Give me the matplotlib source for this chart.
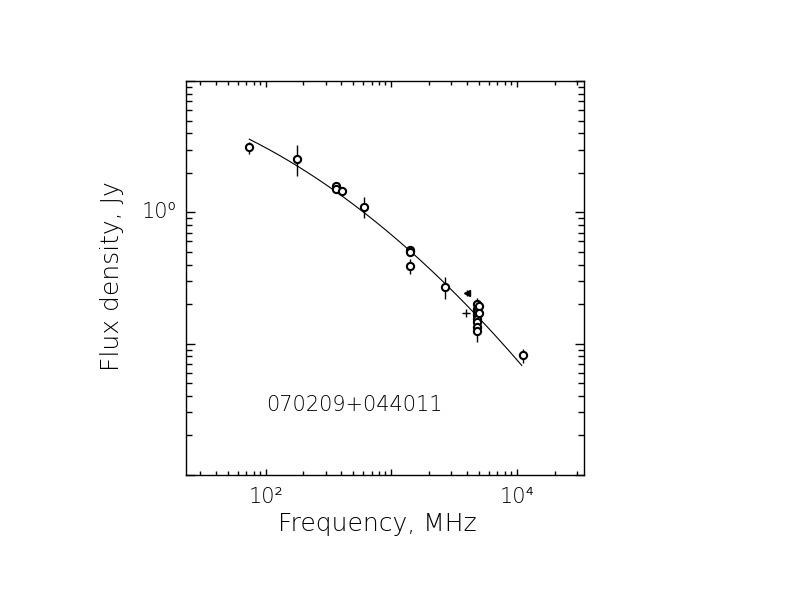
import numpy as np
import matplotlib
matplotlib.use("Agg")
import matplotlib.pyplot as plt
from matplotlib.ticker import LogLocator, NullFormatter, FixedLocator, FixedFormatter

# ---- data (frequency in MHz, flux density in Jy) ----
circ_freq = [74, 178, 365, 365, 408, 610, 1400, 1400, 1400, 2700,
             4850, 4850, 4850, 4850, 4850, 4850, 4850, 4850, 5000, 5000, 11200]
circ_flux = [3.12, 2.56, 1.595, 1.505, 1.454, 1.10, 0.521, 0.497, 0.389, 0.270,
             0.200, 0.185, 0.175, 0.165, 0.155, 0.145, 0.135, 0.125, 0.195, 0.170, 0.0816]
circ_err = [0.32, 0.68, 0.03, 0.03, 0.03, 0.20, 0.03, 0.03, 0.05, 0.05,
            0.022, 0.015, 0.015, 0.015, 0.015, 0.015, 0.015, 0.022, 0.015, 0.015, 0.010]

tri_freq = [4000]
tri_flux = [0.244]
tri_err = [0.012]

plus_freq = [3950]
plus_flux = [0.172]

# spectral fit: log10 S = a + b*log10(f) + c*log10(f)^2 (coefficients)
fit_coef = [0.9427, 0.0654, -0.1454]
fit_range = [74, 10965]

source_name = "070209+044011"
x_ticklabels = ["10\u00b2", "10\u2074"]
x_tickvals = [1e2, 1e4]
y_ticklabels = ["10\u2070"]
y_tickvals = [1.0]

fig = plt.figure(figsize=(7.92, 6.12), dpi=100)
ax = fig.add_axes([186/792, 1-475/612, (584-186)/792, (475-81)/612])
ax.set_xscale("log")
ax.set_yscale("log")
ax.set_xlim(23.2, 34300)
ax.set_ylim(0.01, 10)

lf = np.linspace(np.log10(fit_range[0]), np.log10(fit_range[1]), 200)
ls = fit_coef[0] + fit_coef[1]*lf + fit_coef[2]*lf**2
ax.plot(10**lf, 10**ls, color="black", lw=0.8)

ax.errorbar(circ_freq, circ_flux, yerr=circ_err, fmt="none", ecolor="black", elinewidth=1.0, capsize=0)
ax.plot(circ_freq, circ_flux, "o", mfc="white", mec="black", mew=1.5, ms=5.2, ls="none")
ax.errorbar(tri_freq, tri_flux, yerr=tri_err, fmt="<", color="black", ms=5, elinewidth=1.0, capsize=0)
ax.plot(plus_freq, plus_flux, "+", color="black", ms=6, mew=1.0)

for sp in ax.spines.values():
    sp.set_linewidth(1.0)

ax.xaxis.set_major_locator(FixedLocator([1e2, 1e3, 1e4]))
ax.xaxis.set_major_formatter(FixedFormatter(["", "", ""]))
ax.xaxis.set_minor_locator(LogLocator(base=10, subs=np.arange(2, 10)))
ax.xaxis.set_minor_formatter(NullFormatter())
ax.yaxis.set_major_locator(FixedLocator([1e-2, 1e-1, 1e0, 1e1]))
ax.yaxis.set_major_formatter(FixedFormatter(["", "", "", ""]))
ax.yaxis.set_minor_locator(LogLocator(base=10, subs=np.arange(2, 10)))
ax.yaxis.set_minor_formatter(NullFormatter())

ax.tick_params(axis="both", which="both", direction="in", top=True, right=True, width=1.0, color="black")
ax.tick_params(axis="x", which="major", length=4.5)
ax.tick_params(axis="x", which="minor", length=3.0)
ax.tick_params(axis="y", which="major", length=6.5)
ax.tick_params(axis="y", which="minor", length=4.3)

fnt = dict(family="DejaVu Sans", weight="light", color="black")
for v, t in zip(x_tickvals, x_ticklabels):
    ax.text(v, -0.056, t, transform=ax.get_xaxis_transform(), ha="center", va="center", fontsize=15, **fnt)
for v, t in zip(y_tickvals, y_ticklabels):
    ax.text(-0.023, v, t, transform=ax.get_yaxis_transform(), ha="right", va="center", fontsize=15, **fnt)

fig.text(377/792, 1-524/612, "Frequency, MHz", ha="center", va="center", fontsize=18, **fnt)
fig.text(112/792, 1-276/612, "Flux density, Jy", ha="center", va="center", rotation=90, fontsize=18, **fnt)
fig.text(266/792, 1-405/612, source_name, ha="left", va="center", fontsize=15, **fnt)

fig.savefig("out.png", dpi=100)
